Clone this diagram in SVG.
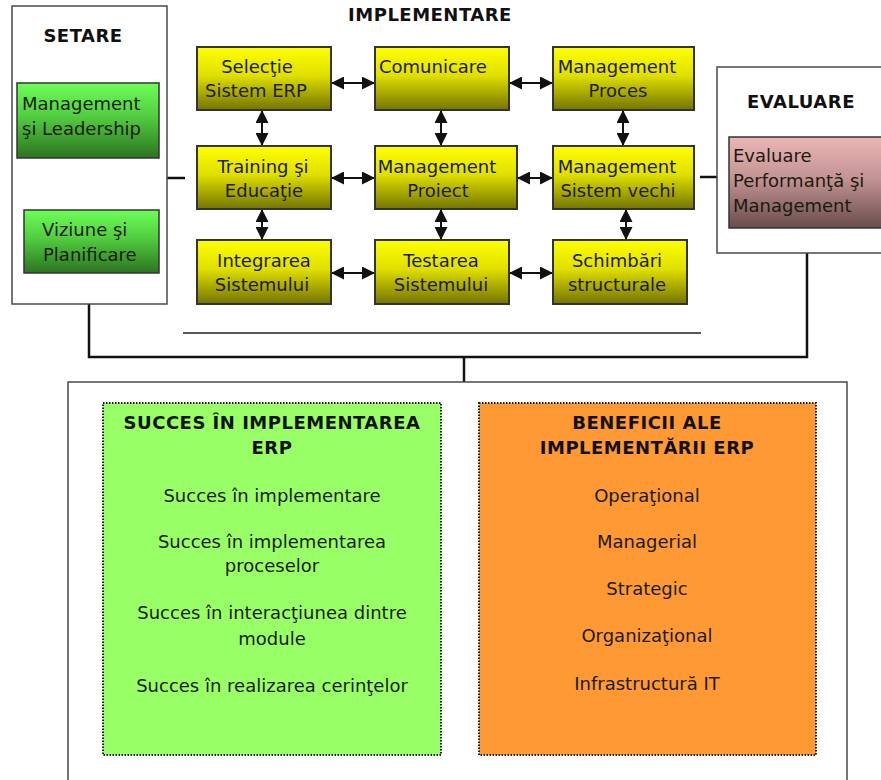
<svg xmlns="http://www.w3.org/2000/svg" width="881" height="780" viewBox="0 0 881 780">
  <defs>
    <linearGradient id="gYellow" x1="0" y1="0" x2="0" y2="1">
      <stop offset="0" stop-color="#ffff00"/>
      <stop offset="0.45" stop-color="#e0e000"/>
      <stop offset="1" stop-color="#747400"/>
    </linearGradient>
    <linearGradient id="gGreen" x1="0" y1="0" x2="0" y2="1">
      <stop offset="0" stop-color="#6cff58"/>
      <stop offset="0.45" stop-color="#52cc40"/>
      <stop offset="1" stop-color="#2c7420"/>
    </linearGradient>
    <linearGradient id="gPink" x1="0" y1="0" x2="0" y2="1">
      <stop offset="0" stop-color="#ebb6b6"/>
      <stop offset="0.45" stop-color="#c39494"/>
      <stop offset="1" stop-color="#6a4c4c"/>
    </linearGradient>
    <marker id="ah" viewBox="0 0 12 12" refX="12" refY="6" markerWidth="13" markerHeight="13" markerUnits="userSpaceOnUse" orient="auto-start-reverse">
      <path d="M0,0 L12,6 L0,12 Z" fill="#111"/>
    </marker>
  </defs>
  <style>
    text { font-family: "DejaVu Sans", Verdana, sans-serif; font-size: 18px; fill: #1b1b0e; }
    .h { font-weight: bold; letter-spacing: 0.5px; fill: #111; }
    .c { text-anchor: middle; }
    .frame { fill: #fff; stroke: #4a4a4a; stroke-width: 1.5; }
    .y { fill: url(#gYellow); stroke: #333; stroke-width: 2; }
    .g { fill: url(#gGreen); stroke: #333; stroke-width: 1.5; }
    .p { fill: url(#gPink); stroke: #333; stroke-width: 1.5; }
    .dot { stroke: #222; stroke-width: 2; stroke-dasharray: 1.5 1.5; }
    .link { fill: none; stroke: #111; stroke-width: 2.5; }
    .thin { fill: none; stroke: #222; stroke-width: 1.3; }
    .arr { stroke: #111; stroke-width: 2; marker-start: url(#ah); marker-end: url(#ah); }
  </style>

  <rect width="881" height="780" fill="#fff"/>

  <!-- connectors -->
  <g id="connectors">
    <path class="link" d="M89,304 V357 H807 V253"/>
    <path class="link" d="M464,357 V382"/>
    <path class="link" d="M167,178 H185"/>
    <path class="link" d="M700,177 H717"/>
    <path class="thin" d="M183,333 H701"/>
    <!-- grid, horizontal -->
    <line class="arr" x1="331" y1="83" x2="375" y2="83"/>
    <line class="arr" x1="509" y1="83" x2="553" y2="83"/>
    <line class="arr" x1="331" y1="178" x2="375" y2="178"/>
    <line class="arr" x1="517" y1="178" x2="553" y2="178"/>
    <line class="arr" x1="331" y1="273" x2="375" y2="273"/>
    <line class="arr" x1="509" y1="273" x2="553" y2="273"/>
    <!-- grid, vertical -->
    <line class="arr" x1="262" y1="110" x2="262" y2="146"/>
    <line class="arr" x1="441" y1="110" x2="441" y2="146"/>
    <line class="arr" x1="623" y1="110" x2="623" y2="146"/>
    <line class="arr" x1="262" y1="209" x2="262" y2="240"/>
    <line class="arr" x1="441" y1="209" x2="441" y2="240"/>
    <line class="arr" x1="626" y1="209" x2="626" y2="240"/>
    <!-- results -->
    <line class="arr" x1="441" y1="568" x2="479" y2="568"/>
  </g>

  <!-- setup phase -->
  <g id="setare">
    <rect class="frame" x="12" y="6" width="155" height="298"/>
    <text class="h c" x="83" y="42">SETARE</text>
  </g>
  <g id="management-leadership">
    <rect class="g" x="17" y="83" width="142" height="75"/>
    <text x="22" y="110">Management</text>
    <text x="22" y="135">şi Leadership</text>
  </g>
  <g id="viziune-planificare">
    <rect class="g" x="24" y="210" width="135" height="63"/>
    <text x="42" y="236">Viziune şi</text>
    <text x="43" y="261">Planificare</text>
  </g>

  <!-- implementation phase -->
  <text class="h c" x="430" y="21">IMPLEMENTARE</text>

  <g id="selectie">
    <rect class="y" x="197" y="47" width="134" height="63"/>
    <text class="c" x="257" y="73">Selecţie</text>
    <text class="c" x="256" y="97">Sistem ERP</text>
  </g>
  <g id="comunicare">
    <rect class="y" x="375" y="47" width="134" height="63"/>
    <text x="379" y="73">Comunicare</text>
  </g>
  <g id="management-proces">
    <rect class="y" x="553" y="47" width="141" height="63"/>
    <text class="c" x="617" y="73">Management</text>
    <text class="c" x="618" y="97">Proces</text>
  </g>
  <g id="training">
    <rect class="y" x="197" y="146" width="134" height="63"/>
    <text class="c" x="263" y="173">Training şi</text>
    <text class="c" x="264" y="197">Educaţie</text>
  </g>
  <g id="management-proiect">
    <rect class="y" x="375" y="146" width="142" height="63"/>
    <text class="c" x="437" y="173">Management</text>
    <text class="c" x="438" y="197">Proiect</text>
  </g>
  <g id="management-sistem-vechi">
    <rect class="y" x="553" y="146" width="141" height="63"/>
    <text class="c" x="617" y="173">Management</text>
    <text class="c" x="618" y="197">Sistem vechi</text>
  </g>
  <g id="integrarea">
    <rect class="y" x="197" y="240" width="134" height="64"/>
    <text class="c" x="264" y="267">Integrarea</text>
    <text class="c" x="262" y="291">Sistemului</text>
  </g>
  <g id="testarea">
    <rect class="y" x="375" y="240" width="134" height="64"/>
    <text class="c" x="441" y="267">Testarea</text>
    <text class="c" x="441" y="291">Sistemului</text>
  </g>
  <g id="schimbari">
    <rect class="y" x="553" y="240" width="134" height="64"/>
    <text class="c" x="617" y="267">Schimbări</text>
    <text class="c" x="617" y="291">structurale</text>
  </g>

  <!-- evaluation phase -->
  <g id="evaluare">
    <rect class="frame" x="717" y="67" width="180" height="186"/>
    <text class="h c" x="801" y="108">EVALUARE</text>
  </g>
  <g id="evaluare-performanta">
    <rect class="p" x="729" y="137" width="170" height="91"/>
    <text x="733" y="162">Evaluare</text>
    <text x="733" y="187">Performanţă şi</text>
    <text x="733" y="212">Management</text>
  </g>

  <!-- results -->
  <g id="rezultate">
    <rect class="frame" x="68" y="382" width="779" height="410"/>
  </g>
  <g id="succes">
    <rect class="dot" x="103" y="403" width="338" height="352" fill="#99ff66"/>
    <text class="h c" x="272" y="429">SUCCES ÎN IMPLEMENTAREA</text>
    <text class="h c" x="272" y="454">ERP</text>
    <text class="c" x="272" y="502">Succes în implementare</text>
    <text class="c" x="272" y="548">Succes în implementarea</text>
    <text class="c" x="272" y="572">proceselor</text>
    <text class="c" x="272" y="619">Succes în interacţiunea dintre</text>
    <text class="c" x="272" y="645">module</text>
    <text class="c" x="272" y="692">Succes în realizarea cerinţelor</text>
  </g>
  <g id="beneficii">
    <rect class="dot" x="479" y="403" width="337" height="352" fill="#ff9933"/>
    <text class="h c" x="647" y="429">BENEFICII ALE</text>
    <text class="h c" x="647" y="454">IMPLEMENTĂRII ERP</text>
    <text class="c" x="647" y="502">Operaţional</text>
    <text class="c" x="647" y="548">Managerial</text>
    <text class="c" x="647" y="595">Strategic</text>
    <text class="c" x="647" y="642">Organizaţional</text>
    <text class="c" x="647" y="690">Infrastructură IT</text>
  </g>
</svg>
